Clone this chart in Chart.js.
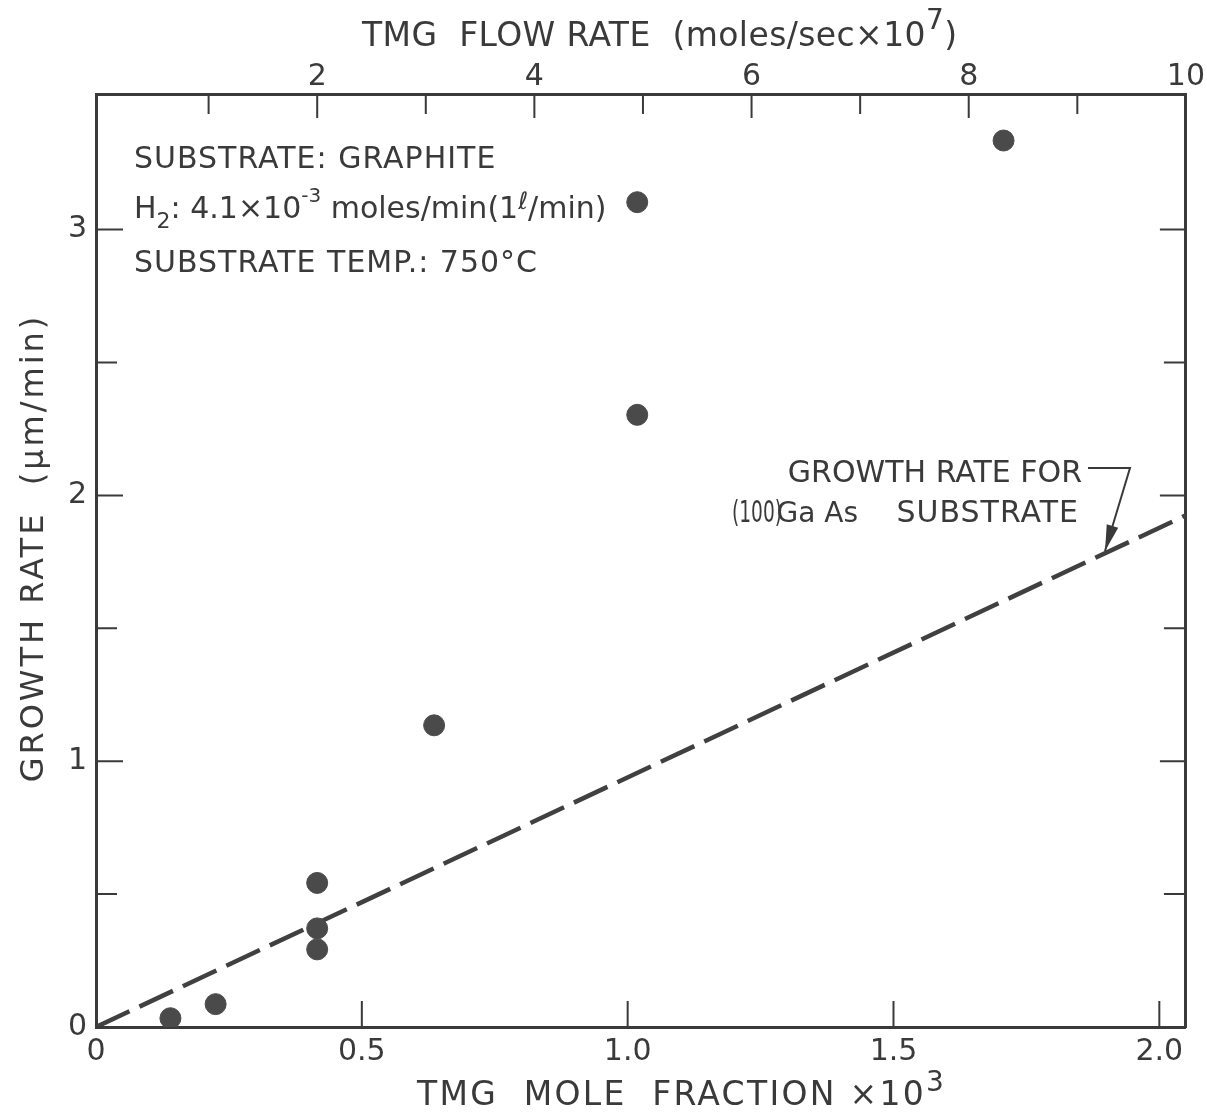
<!DOCTYPE html>
<html>
<head>
<meta charset="utf-8">
<script src="https://cdn.jsdelivr.net/npm/chart.js@4.4.1/dist/chart.umd.min.js"></script>
<style>
  body { margin: 0; background: #ffffff; overflow: hidden; }
  #wrap { width: 1207px; height: 1117px; }
</style>
</head>
<body>
<div id="wrap"><canvas id="grafico" width="1207" height="1117"></canvas></div>
<script>
// Datos medidos sobre grafito
const moleFraction = [0.140, 0.225, 0.416, 0.416, 0.416, 0.636, 1.018, 1.018, 1.707];
const growthRate = [0.033, 0.086, 0.542, 0.371, 0.292, 1.135, 2.303, 3.103, 3.335];

// Recta de referencia para sustrato (100) GaAs
const gaasX = [0, 2.05];
const gaasY = [0, 1.925];

// Marcas de los ejes
const bottomTicks = [0, 0.5, 1.0, 1.5, 2.0];
const topTicks = [1, 2, 3, 4, 5, 6, 7, 8, 9, 10];
const topLabels = [2, 4, 6, 8, 10];
const rateTicks = [0, 0.5, 1, 1.5, 2, 2.5, 3];

const INK = "#3a3a3a";
const FONT = '"DejaVu Sans", sans-serif';

function setTicks(values) {
  return (scale) => {
    scale.ticks = values.map((v) => ({ value: v }));
  };
}

// Escribe texto por tramos (subíndices / superíndices)
function drawRuns(ctx, x, y, runs, spacing) {
  let cx = x;
  ctx.letterSpacing = (spacing || 0) + "px";
  runs.forEach(([text, size, dy]) => {
    ctx.font = `${size}px ${FONT}`;
    ctx.fillText(text, cx, y + (dy || 0));
    cx += ctx.measureText(text).width;
  });
  ctx.letterSpacing = "0px";
}

// Marcas hacia adentro y textos del gráfico
const decoraciones = {
  id: "decoraciones",
  afterDraw(chart) {
    const { ctx, chartArea: a, scales } = chart;
    ctx.save();
    ctx.strokeStyle = INK;
    ctx.lineWidth = 2;
    ctx.beginPath();
    rateTicks.forEach((v) => {
      const py = scales.y.getPixelForValue(v);
      const major = Number.isInteger(v);
      ctx.moveTo(a.left, py);
      ctx.lineTo(a.left + (major ? 27 : 21), py);
      ctx.moveTo(a.right, py);
      ctx.lineTo(a.right - (major ? 26 : 22), py);
    });
    bottomTicks.forEach((v) => {
      const px = scales.x.getPixelForValue(v);
      ctx.moveTo(px, a.bottom);
      ctx.lineTo(px, a.bottom - 26);
    });
    topTicks.forEach((v) => {
      const px = scales.x2.getPixelForValue(v);
      ctx.moveTo(px, a.top);
      ctx.lineTo(px, a.top + (v % 2 === 0 ? 24 : 20));
    });
    ctx.stroke();

    ctx.fillStyle = INK;
    ctx.textBaseline = "alphabetic";
    ctx.textAlign = "left";

    // Títulos de los ejes horizontales
    drawRuns(ctx, 362, 46, [
      ["TMG  FLOW RATE  (moles/sec×10", 33],
      ["7", 28, -17],
      [")", 33],
    ], 0.4);
    drawRuns(ctx, 417, 1105, [
      ["TMG  MOLE  FRACTION ×10", 33],
      ["3", 28, -14],
    ], 2.3);

    // Título del eje vertical
    ctx.save();
    ctx.translate(43, 548);
    ctx.rotate(-Math.PI / 2);
    ctx.textAlign = "center";
    ctx.font = `32px ${FONT}`;
    ctx.letterSpacing = "3px";
    ctx.fillText("GROWTH RATE  (μm/min)", 0, 0);
    ctx.restore();

    // Condiciones del experimento
    ctx.textAlign = "left";
    drawRuns(ctx, 134, 168, [["SUBSTRATE: GRAPHITE", 30]], 1);
    drawRuns(ctx, 134, 218, [
      ["H", 30],
      ["2", 22, 10],
      [": 4.1×10", 30],
      ["-3", 20, -16],
      [" moles/min(1", 30],
      ["ℓ", 24, -9],
      ["/min)", 30],
    ], 0);
    drawRuns(ctx, 134, 272, [["SUBSTRATE TEMP.: 750°C", 30]], 1);

    // Rótulo de la recta y flecha
    ctx.textAlign = "right";
    ctx.font = `30px ${FONT}`;
    ctx.fillText("GROWTH RATE FOR", 1082, 482);
    ctx.letterSpacing = "1px";
    ctx.fillText("SUBSTRATE", 1079, 522);
    ctx.letterSpacing = "0px";
    ctx.font = `28px ${FONT}`;
    ctx.fillText("Ga As", 858, 522);
    ctx.save();
    ctx.translate(782, 522);
    ctx.scale(0.62, 1);
    ctx.font = `30px ${FONT}`;
    ctx.fillText("(100)", 0, 0);
    ctx.restore();

    const tip = { x: 1105, y: 551 };
    const elbow = { x: 1130, y: 468 };
    ctx.lineWidth = 2;
    ctx.beginPath();
    ctx.moveTo(1088, 468);
    ctx.lineTo(elbow.x, elbow.y);
    ctx.lineTo(tip.x, tip.y);
    ctx.stroke();
    const ang = Math.atan2(tip.y - elbow.y, tip.x - elbow.x);
    const len = 26, half = 6;
    const bx = tip.x - len * Math.cos(ang), by = tip.y - len * Math.sin(ang);
    ctx.beginPath();
    ctx.moveTo(tip.x, tip.y);
    ctx.lineTo(bx + half * Math.sin(ang), by - half * Math.cos(ang));
    ctx.lineTo(bx - half * Math.sin(ang), by + half * Math.cos(ang));
    ctx.closePath();
    ctx.fill();
    ctx.restore();
  },
};

const tickFont = { family: FONT, size: 30, lineHeight: 1 };
const borde = { display: true, width: 3, color: INK };
const sinRejilla = { display: false, drawTicks: false };

new Chart(document.getElementById("grafico"), {
  type: "scatter",
  data: {
    datasets: [
      {
        label: "Graphite",
        data: moleFraction.map((x, i) => ({ x: x, y: growthRate[i] })),
        pointRadius: 10.5,
        pointHoverRadius: 10.5,
        backgroundColor: "#4a4a4a",
        borderColor: "#4a4a4a",
        borderWidth: 1,
      },
      {
        label: "(100) GaAs",
        data: gaasX.map((x, i) => ({ x: x, y: gaasY[i] })),
        showLine: true,
        pointRadius: 0,
        borderColor: "#404040",
        borderWidth: 4.5,
        borderDash: [37, 11],
        fill: false,
      },
    ],
  },
  options: {
    responsive: false,
    animation: false,
    events: [],
    layout: { padding: 0, autoPadding: false },
    plugins: { legend: { display: false }, tooltip: { enabled: false } },
    scales: {
      x: {
        type: "linear",
        position: "bottom",
        min: 0,
        max: 2.05,
        afterBuildTicks: setTicks(bottomTicks),
        afterFit: (s) => { s.height = 90; },
        ticks: {
          autoSkip: false,
          maxRotation: 0,
          padding: 10,
          color: INK,
          font: tickFont,
          callback: (v) => (v === 0 ? "0" : v.toFixed(1)),
        },
        grid: sinRejilla,
        border: borde,
      },
      x2: {
        type: "linear",
        axis: "x",
        position: "top",
        min: -0.037,
        max: 10,
        afterBuildTicks: setTicks(topTicks),
        afterFit: (s) => { s.height = 94; },
        ticks: {
          autoSkip: false,
          maxRotation: 0,
          padding: 2,
          color: INK,
          font: tickFont,
          callback: (v) => (topLabels.includes(v) ? String(v) : ""),
        },
        grid: sinRejilla,
        border: borde,
      },
      y: {
        type: "linear",
        position: "left",
        min: 0,
        max: 3.51,
        afterBuildTicks: setTicks(rateTicks),
        afterFit: (s) => { s.width = 96; },
        ticks: {
          autoSkip: false,
          padding: 9,
          color: INK,
          font: tickFont,
          callback: (v) => (Number.isInteger(v) ? String(v) : ""),
        },
        grid: sinRejilla,
        border: borde,
      },
      y2: {
        type: "linear",
        axis: "y",
        position: "right",
        min: 0,
        max: 3.51,
        afterFit: (s) => { s.width = 19; },
        ticks: { display: false },
        grid: sinRejilla,
        border: borde,
      },
    },
  },
  plugins: [decoraciones],
});
</script>
</body>
</html>
